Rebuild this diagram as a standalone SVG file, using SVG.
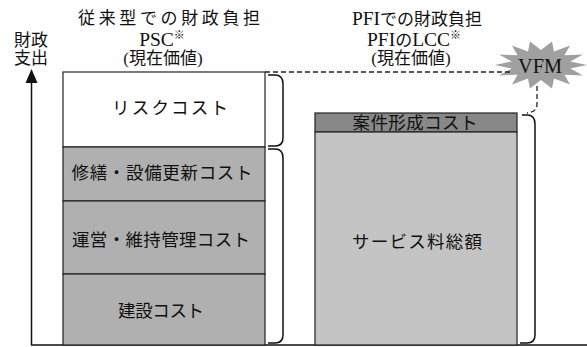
<svg xmlns="http://www.w3.org/2000/svg" width="587" height="347" viewBox="0 0 587 347">
<style>
text{font-family:"Liberation Serif","Noto Sans CJK JP",serif;fill:#111;text-anchor:middle}
.h{font-size:17px}
.lat{font-size:19.5px}
.lbl{font-size:17.5px}
.box{stroke:#222;stroke-width:1.2}
.br{fill:none;stroke:#111;stroke-width:1.5}
.dash{fill:none;stroke:#222;stroke-width:1.3;stroke-dasharray:5 3}
</style>
<rect width="587" height="347" fill="#fff"/>
<g id="axis">
<line x1="31.5" y1="82" x2="31.5" y2="345" stroke="#111" stroke-width="1.5"/>
<polygon points="31.5,69 25.5,83 37.5,83" fill="#111"/>
<line x1="31" y1="345" x2="587" y2="345" stroke="#111" stroke-width="1.5"/>
<text class="h" x="31" y="46">財政</text>
<text class="h" x="31" y="64">支出</text>
</g>
<g id="title-left">
<text class="h" x="169" y="24" textLength="182" lengthAdjust="spacing">従来型での財政負担</text>
<text class="h" x="162" y="46"><tspan class="lat">PSC</tspan><tspan font-size="11" dy="-7">※</tspan></text>
<text class="h" x="163" y="64">(現在価値)</text>
</g>
<g id="title-right">
<text class="h" x="417" y="25"><tspan class="lat">PFI</tspan>での財政負担</text>
<text class="h" x="414" y="46"><tspan class="lat">PFI</tspan>の<tspan class="lat">LCC</tspan><tspan font-size="11" dy="-7">※</tspan></text>
<text class="h" x="411" y="64">(現在価値)</text>
</g>
<g id="risk">
<rect class="box" x="63" y="72" width="202" height="75" fill="#fff"/>
<text class="lbl" x="170" y="114" textLength="116" lengthAdjust="spacing">リスクコスト</text>
</g>
<g id="repair">
<rect class="box" x="63" y="147" width="202" height="54" fill="#b0b0b0"/>
<text class="lbl" x="162" y="179" textLength="181" lengthAdjust="spacing">修繕・設備更新コスト</text>
</g>
<g id="operation">
<rect class="box" x="63" y="201" width="202" height="73" fill="#b0b0b0"/>
<text class="lbl" x="161" y="246" textLength="178" lengthAdjust="spacing">運営・維持管理コスト</text>
</g>
<g id="construction">
<rect class="box" x="63" y="274" width="202" height="71" fill="#b0b0b0"/>
<text class="lbl" x="161" y="317" textLength="86" lengthAdjust="spacing">建設コスト</text>
</g>
<g id="formation">
<rect class="box" x="315" y="113" width="202" height="19" fill="#888"/>
<text class="lbl" x="415" y="129" textLength="125" lengthAdjust="spacing">案件形成コスト</text>
</g>
<g id="service">
<rect class="box" x="315" y="132" width="202" height="213" fill="#c4c4c4"/>
<text class="lbl" x="417" y="248" textLength="130" lengthAdjust="spacing">サービス料総額</text>
</g>
<g id="vfm">
<polygon fill="#a0a0a0" points="587,65 570.3,68.6 583,75.5 564.5,74.7 570,84.5 554,78.6 552,88.5 541,80 530,88.5 528,78.6 512,84.5 517.5,74.7 499,75.5 511.75,68.6 495,65 511.75,61.4 499,54.5 517.5,55.3 512,45.5 528,51.4 530,41.5 541,50 552,41.5 554,51.4 570,45.5 564.5,55.3 583,54.5 570.3,61.4"/>
<text x="540" y="73" font-size="20" textLength="44" lengthAdjust="spacingAndGlyphs">VFM</text>
</g>
<g id="connectors">
<path class="dash" d="M265,72 H510"/>
<path class="dash" d="M537,86 V104 Q537,112 527,113"/>
<path class="br" d="M268,75 H275 Q283,75 283,84 V138 Q283,146 275,146 H268"/>
<path class="br" d="M268,149 H275 Q283,149 283,158 V335 Q283,343 275,343 H268"/>
<path class="br" d="M522,115 H527 Q535,115 535,124 V335 Q535,343 527,343 H520"/>
</g>
</svg>
